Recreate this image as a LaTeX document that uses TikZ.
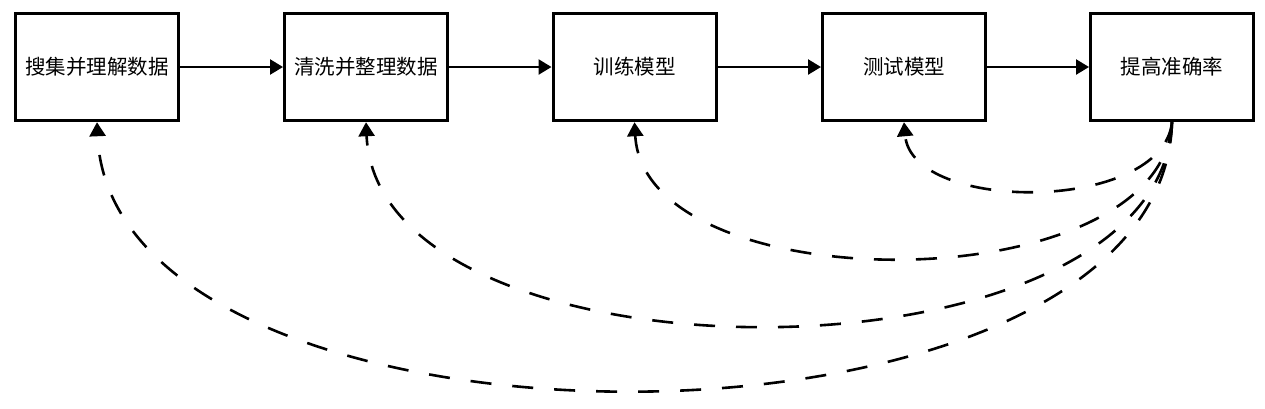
\documentclass[tikz,border=0pt]{standalone}
\usepackage{fontspec}
\newfontfamily\cjk{Noto Sans CJK SC}
\usetikzlibrary{arrows.meta}
\begin{document}
\begin{tikzpicture}[x=1pt,y=-1pt,
  stepbox/.style={draw,line width=3pt,minimum width=163pt,minimum height=107.5pt,inner sep=0pt,
    font=\cjk\fontsize{20.5}{24}\selectfont},
  flow/.style={line width=2.5pt,-{Triangle[length=13pt,width=15pt]}},
  back/.style={line width=2.6pt,dash pattern=on 21pt off 21pt,-{Triangle[length=14pt,width=16pt]}}]
\useasboundingbox (0,0) rectangle (1265,408);
\node[stepbox] (b1) at (97,67) {搜集并理解数据};
\node[stepbox] (b2) at (366,67) {清洗并整理数据};
\node[stepbox] (b3) at (634.5,67) {训练模型};
\node[stepbox] (b4) at (904,67) {测试模型};
\node[stepbox] (b5) at (1172,67) {提高准确率};
\draw[flow] (b1) -- (b2);
\draw[flow] (b2) -- (b3);
\draw[flow] (b3) -- (b4);
\draw[flow] (b4) -- (b5);
\draw[back] (b5.south) .. controls +(-10,357) and +(15,357) .. (b1.south);
\draw[back] (b5.south) .. controls +(-10,271) and +(12,271) .. (b2.south);
\draw[back] (b5.south) .. controls +(-10,181) and +(10,181) .. (b3.south);
\draw[back] (b5.south) .. controls +(-10,91) and +(8,91) .. (b4.south);
\end{tikzpicture}
\end{document}
